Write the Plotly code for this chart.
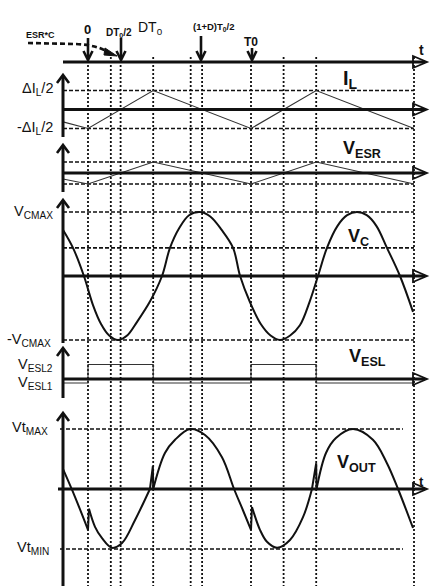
import plotly.graph_objects as go

W, H = 433, 586

# ---------------- data (time in units of T0, values in units of each panel's level) -------------
event_t = [0, 0.14, 0.2, 0.4, 0.63, 0.7, 1.0, 1.2, 1.4, 2.0]

il_t = [-0.153, 0, 0.4, 1.0, 1.4, 2.0]
il_v = [-0.65, -1, 1, -1, 1, -1]

vesr_t = [-0.153, 0, 0.4, 1.0, 1.4, 2.0]
vesr_v = [-0.55, -1, 1, -1, 1, -1]

vc_t = [-0.153, -0.092, -0.025, 0.03, 0.08, 0.13, 0.184, 0.24, 0.30, 0.38, 0.454, 0.503, 0.56, 0.62,
        0.687, 0.75, 0.82, 0.89, 0.933, 0.994, 1.06, 1.12, 1.178, 1.24, 1.30, 1.36, 1.411, 1.466,
        1.53, 1.59, 1.65, 1.71, 1.77, 1.834, 1.914, 1.994]
vc_v = [0.72, 0.44, 0.0, -0.45, -0.75, -0.93, -1.0, -0.93, -0.72, -0.4, 0.0, 0.44, 0.75, 0.95,
        1.0, 0.93, 0.72, 0.44, 0.0, -0.41, -0.75, -0.93, -1.0, -0.93, -0.77, -0.4, 0.0, 0.44,
        0.78, 0.95, 1.0, 0.95, 0.78, 0.44, 0.0, -0.56]
vc_levels = [1.0, 0.44, -1.0]

vesl_t = [-0.153, 0, 0.4, 1.0, 1.4, 2.0]
vesl_v = [-0.28, 1.0, -0.28, 1.0, -0.28, -0.28]

# smooth parts of Vout (None separates the pieces)
vout_t = [-0.153, -0.08, 0.0, None,
          0.006, 0.043, 0.086, 0.147, 0.209, 0.288, 0.38, None,
          0.4, 0.472, 0.534, 0.626, 0.718, 0.822, 0.896, 0.95, 1.0, None,
          1.006, 1.055, 1.098, 1.16, 1.239, 1.319, 1.374, None,
          1.402, 1.46, 1.521, 1.626, 1.748, 1.834, 1.902, 1.994]
vout_v = [0.33, -0.13, -0.68, None,
          -0.33, -0.63, -0.82, -0.98, -0.9, -0.52, 0.0, None,
          0.0, 0.6, 0.82, 1.0, 0.9, 0.53, 0.0, -0.35, -0.68, None,
          -0.3, -0.68, -0.88, -0.98, -0.85, -0.47, 0.0, None,
          0.0, 0.6, 0.85, 1.0, 0.82, 0.43, 0.0, -0.65]
# ESL jumps / spikes of Vout
vjump_t = [0.0, 0.006, None, 0.38, 0.398, 0.4, None, 1.0, 1.006, None, 1.374, 1.4, 1.402]
vjump_v = [-0.68, -0.33, None, 0.0, 0.38, 0.0, None, -0.68, -0.3, None, 0.0, 0.43, 0.0]

# ---------------- layout helpers -------------
T0_PX, ORIGIN_PX = 163.0, 88.0
def X(px): return px / W
def Y(py): return 1 - py / H
def tpx(px): return (px - ORIGIN_PX) / T0_PX

# panel: (center pixel, pixels per unit)
panels = {"y": (109.5, 19.0), "y2": (173.0, 11.0), "y3": (276.0, 64.0),
          "y4": (379.0, 14.5), "y5": (489.0, 60.0)}

INK = "#111111"
FONT = "Liberation Sans, Arial, sans-serif"

fig = go.Figure()

def add(t, v, yax, width, color=INK, shape="linear"):
    fig.add_trace(go.Scatter(x=t, y=v, yaxis=yax, mode="lines",
                             line=dict(color=color, width=width, shape=shape, smoothing=1.0),
                             hoverinfo="skip", showlegend=False))

add(il_t, il_v, "y", 1.1, "#333333")
add(vesr_t, vesr_v, "y2", 1.1, "#333333")
add(vc_t, vc_v, "y3", 2.0, INK, "spline")
add(vesl_t, vesl_v, "y4", 1.1, "#333333", "hv")
add(vout_t, vout_v, "y5", 2.0, INK, "spline")
add(vjump_t, vjump_v, "y5", 2.0, INK)

shapes = []
def seg(x0, y0, x1, y1, w=3, dash=None, color=INK):
    shapes.append(dict(type="line", xref="paper", yref="paper", x0=X(x0), y0=Y(y0), x1=X(x1), y1=Y(y1),
                       line=dict(color=color, width=w, dash=dash), layer="above"))
def path(pts, w=2.5, close=False, fill=None, dash=None):
    d = "M " + " L ".join(f"{X(a):.5f},{Y(b):.5f}" for a, b in pts) + (" Z" if close else "")
    shapes.append(dict(type="path", xref="paper", yref="paper", path=d,
                       line=dict(color=INK, width=w, dash=dash),
                       fillcolor=fill if fill else "rgba(0,0,0,0)", layer="above"))

# vertical dotted event lines
for t in event_t:
    shapes.append(dict(type="line", xref="x", yref="paper", x0=t, x1=t, y0=Y(57), y1=0,
                       line=dict(color="#111", width=1.8, dash="2px,2px"), layer="below"))

# horizontal dashed level lines
def hlevel(yax, v, x0px=63, x1px=414):
    shapes.append(dict(type="line", xref="x", yref=yax, x0=tpx(x0px), x1=tpx(x1px), y0=v, y1=v,
                       line=dict(color="#111", width=1.7, dash="4px,2px"), layer="below"))
for v in (1, -1):
    hlevel("y", v)
    hlevel("y2", v)
for v in vc_levels:
    hlevel("y3", v)
for v in (1, -1):
    hlevel("y5", v, 60, 403)

# horizontal axes with open arrow heads
def haxis(py, x0=63):
    seg(x0, py, 425, py, 3)
    path([(413, py - 6), (427, py), (413, py + 6)], w=1.8, close=True)
haxis(62)
for key in ("y", "y2", "y3", "y4"):
    haxis(panels[key][0])
haxis(489, 58)

# vertical axes with arrow heads
def vaxis(top, bottom):
    seg(63, top + 1, 63, bottom, 3)
    path([(57, top + 8), (63, top), (69, top + 8)], w=2.6)
vaxis(75, 137)
vaxis(145, 192)
vaxis(200, 343)
vaxis(348, 398)
vaxis(413, 586)

# top marker arrows
def darrow(px, top, tip=60):
    seg(px, top, px, tip - 1, 2.6)
    path([(px - 4.5, tip - 9), (px, tip), (px + 4.5, tip - 9)], w=2.6)
darrow(88, 38)
darrow(121, 38)
darrow(201, 36)
darrow(252, 48)

# ESR*C dashed pointer
shapes.append(dict(type="path", xref="paper", yref="paper",
                   path=f"M {X(28)},{Y(43)} L {X(76)},{Y(44)} Q {X(96)},{Y(45)} {X(106)},{Y(51)}",
                   line=dict(color=INK, width=2.6, dash="5px,3px"), layer="above"))
path([(105, 48), (117, 56), (104, 55)], w=1, close=True, fill=INK)

annotations = []
def txt(px, py, s, size=13, anchor="center", bold=False):
    if bold:
        s = f"<b>{s}</b>"
    annotations.append(dict(x=X(px), y=Y(py), xref="paper", yref="paper", text=s, showarrow=False,
                            xanchor=anchor, yanchor="middle",
                            font=dict(family=FONT, size=size, color=INK)))

# top labels
txt(40, 35, "ESR*C", 9, bold=True)
txt(87, 30, "0", 13, bold=True)
txt(119, 33, "DT<sub>0</sub>/2", 10, bold=True)
txt(150, 28, "DT<sub>0</sub>", 14)
txt(213, 27, "(1+D)T<sub>0</sub>/2", 9.5, bold=True)
txt(251, 42, "T0", 12, bold=True)
txt(421, 50, "t", 14, bold=True)
txt(421, 481, "t", 13, bold=True)

# left level labels
LS = 14.5
txt(55, 89, "ΔI<sub>L</sub>/2", LS, "right")
txt(55, 128, "-ΔI<sub>L</sub>/2", LS, "right")
txt(55, 212, "V<sub>CMAX</sub>", LS, "right")
txt(53, 340, "-V<sub>CMAX</sub>", LS, "right")
txt(55, 365, "V<sub>ESL2</sub>", LS, "right")
txt(55, 383, "V<sub>ESL1</sub>", LS, "right")
txt(50, 428, "Vt<sub>MAX</sub>", LS, "right")
txt(51, 548, "Vt<sub>MIN</sub>", LS, "right")

# right signal names
txt(350, 79, "I<sub>L</sub>", 20, bold=True)
txt(362, 149, "V<sub>ESR</sub>", 18, bold=True)
txt(358, 237, "V<sub>C</sub>", 18, bold=True)
txt(367, 357, "V<sub>ESL</sub>", 18, bold=True)
txt(356, 463, "V<sub>OUT</sub>", 18, bold=True)

layout = dict(
    width=W, height=H, margin=dict(l=0, r=0, t=0, b=0),
    paper_bgcolor="white", plot_bgcolor="white", showlegend=False,
    xaxis=dict(range=[tpx(0), tpx(W)], visible=False, fixedrange=True, domain=[0, 1]),
    shapes=shapes, annotations=annotations,
)
for i, (key, (c, s)) in enumerate(panels.items()):
    name = "yaxis" if key == "y" else "yaxis" + key[1:]
    ax = dict(range=[(c - H) / s, c / s], visible=False, fixedrange=True, domain=[0, 1])
    if key != "y":
        ax["overlaying"] = "y"
    layout[name] = ax

fig.update_layout(**layout)
fig.write_html("out.html", config={"displayModeBar": False},
               post_script="document.body.style.margin='0';document.body.style.overflow='hidden';")
